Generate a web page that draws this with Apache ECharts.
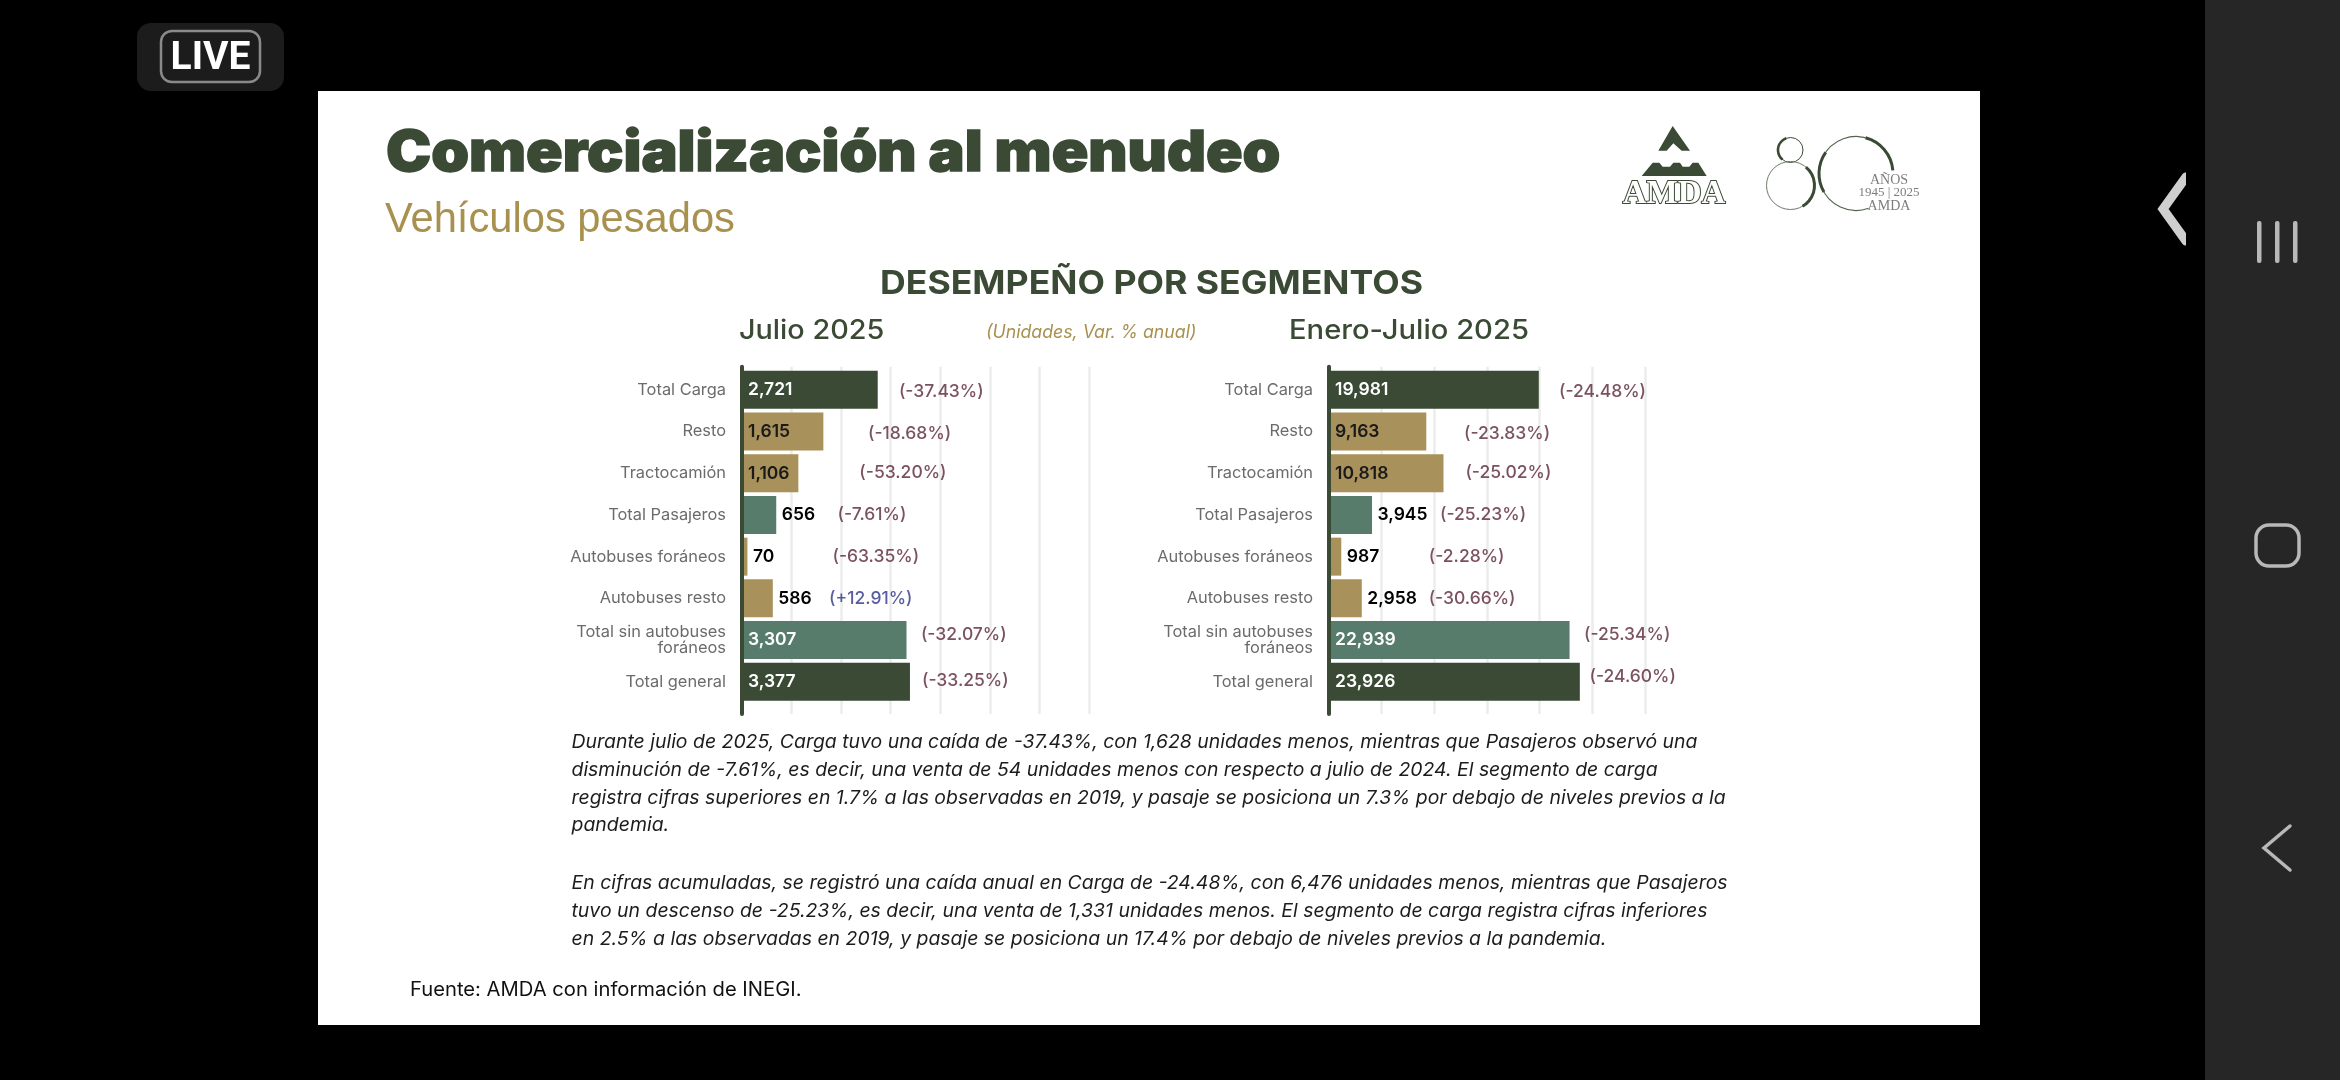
<!DOCTYPE html>
<html><head><meta charset="utf-8">
<style>html,body{margin:0;padding:0;background:#000}#c{width:2340px;height:1080px}</style>
<script src="https://cdn.jsdelivr.net/npm/echarts@6/dist/echarts.min.js"></script>
</head><body><div id="c"></div>
<script>
const categories = ['Total Carga','Resto','Tractocamión','Total Pasajeros','Autobuses foráneos','Autobuses resto','Total sin autobuses\nforáneos','Total general'];
const julioValues = [2721,1615,1106,656,70,586,3307,3377];
const julioChange = ['(-37.43%)','(-18.68%)','(-53.20%)','(-7.61%)','(-63.35%)','(+12.91%)','(-32.07%)','(-33.25%)'];
const acumValues = [19981,9163,10818,3945,987,2958,22939,23926];
const acumChange = ['(-24.48%)','(-23.83%)','(-25.02%)','(-25.23%)','(-2.28%)','(-30.66%)','(-25.34%)','(-24.60%)'];
const paragraphLines = [
 'Durante julio de 2025, Carga tuvo una caída de -37.43%, con 1,628 unidades menos, mientras que Pasajeros observó una',
 'disminución de -7.61%, es decir, una venta de 54 unidades menos con respecto a julio de 2024. El segmento de carga',
 'registra cifras superiores en 1.7% a las observadas en 2019, y pasaje se posiciona un 7.3% por debajo de niveles previos a la',
 'pandemia.',
 'En cifras acumuladas, se registró una caída anual en Carga de -24.48%, con 6,476 unidades menos, mientras que Pasajeros',
 'tuvo un descenso de -25.23%, es decir, una venta de 1,331 unidades menos. El segmento de carga registra cifras inferiores',
 'en 2.5% a las observadas en 2019, y pasaje se posiciona un 17.4% por debajo de niveles previos a la pandemia.'
];

/* styling + layout, kept apart from the data */
const DARK='#3a4a35', TAN='#a8915a', GREEN='#587c6c', RED='#5a2638', BLUE='#2f3588';
const FONT='Inter';
const barColors=[DARK,TAN,TAN,GREEN,TAN,TAN,GREEN,DARK];
const valueColors=['#fff','#1a1a1a','#1a1a1a','#000','#000','#000','#fff','#fff'];
const insideBar=[true,true,true,false,false,false,true,true];
const julioOffsets=[[20.7,2],[44.2,2],[60.5,-1],[60.8,0],[84.5,0],[55.8,0],[13.9,-5],[11.5,-1]];
const acumOffsets=[[19.7,2],[37.2,2],[21.4,-1],[67.5,0],[87,0],[66.4,0],[14,-5],[9.2,-5]];
const paragraphY=[742,770,798.5,825.5,883.5,911.5,939.5];

function panel(idx,values,changes,offsets,name){
  return [{
    name:name,type:'bar',xAxisIndex:idx,yAxisIndex:idx,barWidth:38,z:3,
    data:values.map((v,i)=>({value:v,itemStyle:{color:barColors[i]},
      label:{position:insideBar[i]?'insideLeft':'right',distance:insideBar[i]?4:5.5,color:valueColors[i]}})),
    label:{show:true,fontFamily:FONT,fontSize:17.5,fontWeight:600,formatter:p=>p.value.toLocaleString('en-US')}
  },{
    name:name+' var',type:'scatter',xAxisIndex:idx,yAxisIndex:idx,symbolSize:1,z:4,
    itemStyle:{color:'rgba(0,0,0,0)'},
    data:values.map((v,i)=>({value:[v,i],label:{
      show:true,position:'right',distance:0,offset:offsets[i],formatter:changes[i],
      fontFamily:FONT,fontSize:17.5,fontWeight:500,color:changes[i].indexOf('+')>=0?BLUE:RED}}))
  }];
}
const txt=(text,x,y,size,color,extra,sx)=>({type:'text',z:50,x:x,y:y,scaleX:sx||1,silent:true,
  style:Object.assign({text:text,fontFamily:FONT,fontSize:size,fill:color,verticalAlign:'middle',align:'left'},extra||{})});
const lx=v=>1600+v/3, ly=v=>110+v/3;
const poly=pts=>({type:'polygon',z:50,silent:true,shape:{points:pts.map(p=>[lx(p[0]),ly(p[1])])},style:{fill:DARK}});
const deg=d=>d*Math.PI/180;
const arc=(cx,cy,r,a,b,w,c)=>({type:'arc',z:50,silent:true,shape:{cx:cx,cy:cy,r:r,startAngle:deg(a),endAngle:deg(b),clockwise:true},style:{fill:'none',stroke:c||DARK,lineWidth:w}});

const graphics=[
 {type:'rect',z:-10,silent:true,shape:{x:318,y:91,width:1662,height:934},style:{fill:'#fff'}},
 {type:'rect',z:-10,silent:true,shape:{x:2205,y:0,width:135,height:1080},style:{fill:'#262626'}},
 // LIVE badge
 {type:'rect',z:50,silent:true,shape:{x:137,y:23,width:147,height:68,r:14},style:{fill:'#1c1c1c'}},
 {type:'rect',z:51,silent:true,shape:{x:161,y:31,width:99,height:51,r:11},style:{fill:'none',stroke:'#8a8a8a',lineWidth:2.5}},
 txt('LIVE',210.5,59,39,'#fff',{fontFamily:'Roboto',fontWeight:700,align:'center'}),
 // navigation
 {type:'polyline',z:50,silent:true,shape:{points:[[2186,177],[2163,209],[2186,241]]},style:{stroke:'#cfcfcf',lineWidth:9,lineCap:'round',fill:'none'}},
 {type:'rect',z:51,silent:true,shape:{x:2186,y:165,width:19,height:90},style:{fill:'#000'}},
 {type:'rect',z:50,silent:true,shape:{x:2257,y:221,width:4.5,height:42,r:2},style:{fill:'#b8b8b8'}},
 {type:'rect',z:50,silent:true,shape:{x:2275,y:221,width:4.5,height:42,r:2},style:{fill:'#b8b8b8'}},
 {type:'rect',z:50,silent:true,shape:{x:2293,y:221,width:4.5,height:42,r:2},style:{fill:'#b8b8b8'}},
 {type:'rect',z:50,silent:true,shape:{x:2256,y:525,width:43,height:41,r:13},style:{fill:'none',stroke:'#b8b8b8',lineWidth:3.5}},
 {type:'polyline',z:50,silent:true,shape:{points:[[2290,826],[2264,848],[2290,870]]},style:{stroke:'#b8b8b8',lineWidth:3.5,lineCap:'round',fill:'none'}},
 // headings
 txt('Comercialización al menudeo',386,154,56,DARK,{fontWeight:900,stroke:DARK,lineWidth:1.4},1.08),
 txt('Vehículos pesados',385,221,41.7,'#a8914f',{fontFamily:'Liberation Sans'}),
 txt('DESEMPEÑO POR SEGMENTOS',880,284,33,DARK,{fontWeight:700},1.08),
 txt('Julio 2025',739,331,27,DARK,{fontWeight:500},1.066),
 txt('(Unidades, Var. % anual)',986,333,18,'#a8914f',{fontStyle:'italic'},0.985),
 txt('Enero-Julio 2025',1289,331,27,DARK,{fontWeight:500},1.08),
 txt('Fuente: AMDA con información de INEGI.',410,990.5,19.5,'#111',null,1.036),
 // logo AMDA
 poly([[218,48],[270,122],[245,122],[220,100],[200,122],[175,122]]),
 poly([[125,198],[158,158],[178,158],[188,170],[210,170],[220,158],[240,158],[248,170],[268,170],[278,158],[295,158],[320,198]]),
 txt('AMDA',lx(222),ly(253),33,'#fff',{fontFamily:'Liberation Serif',fontWeight:700,align:'center',stroke:DARK,lineWidth:2}),
 // logo 80
 {type:'circle',z:50,silent:true,shape:{cx:1790.5,cy:150,r:12.5},style:{fill:'none',stroke:DARK,lineWidth:1}},
 {type:'circle',z:50,silent:true,shape:{cx:1790.5,cy:185.5,r:24},style:{fill:'none',stroke:'#6d7a68',lineWidth:1}},
 arc(1790.5,150,12.5,130,250,2.6),
 arc(1790.5,185.5,24,310,60,3),
 {type:'arc',z:50,silent:true,shape:{cx:1856,cy:173.5,r:37,startAngle:deg(70),endAngle:deg(355),clockwise:true},style:{fill:'none',stroke:'#55634f',lineWidth:1.2}},
 arc(1856,173.5,37,150,215,3),
 arc(1856,173.5,37,285,355,3),
 txt('AÑOS',1889,180,14,'#7d7d7d',{fontFamily:'Liberation Serif',align:'center'}),
 txt('1945 | 2025',1889,193,13,'#7d7d7d',{fontFamily:'Liberation Serif',align:'center'}),
 txt('AMDA',1889,206,14,'#7d7d7d',{fontFamily:'Liberation Serif',align:'center'})
].concat(paragraphLines.map((t,i)=>txt(t,571.5,paragraphY[i],18.5,'#1c1c1c',{fontStyle:'italic'},1.05)));

const grids=[
 {left:744,width:344,top:369,height:333.6},
 {left:1331,width:312,top:369,height:333.6},
 {left:742,width:347,top:366.7,height:347.3},
 {left:1329,width:316,top:366.7,height:347.3}
];
const yCat=i=>({type:'category',gridIndex:i,inverse:true,data:categories,axisTick:{show:false},axisLine:{show:false},
  axisLabel:{margin:18,color:'#6b6b6b',fontFamily:FONT,fontSize:16.4,lineHeight:16.5,align:'right'}});
const xHidden=(i,max,step)=>({type:'value',gridIndex:i,min:0,max:max,interval:step,show:false});
const xBack=(i,max,step)=>({type:'value',gridIndex:i,min:0,max:max,interval:step,axisLine:{show:false},axisTick:{show:false},axisLabel:{show:false},
  splitLine:{show:true,lineStyle:{color:'#ececec',width:2.5}}});
const yBack=i=>({type:'value',gridIndex:i,min:0,max:1,z:6,axisTick:{show:false},axisLabel:{show:false},splitLine:{show:false},
  axisLine:{show:true,onZero:false,lineStyle:{color:DARK,width:4}}});

echarts.init(document.getElementById('c')).setOption({
  animation:false,backgroundColor:'#000',
  grid:grids,
  xAxis:[xHidden(0,7000,1000),xHidden(1,30000,5000),xBack(2,7000,1000),xBack(3,30000,5000)],
  yAxis:[yCat(0),yCat(1),yBack(2),yBack(3)],
  graphic:{elements:graphics},
  series:[...panel(0,julioValues,julioChange,julioOffsets,'Julio 2025'),...panel(1,acumValues,acumChange,acumOffsets,'Enero-Julio 2025')]
});
</script></body></html>
